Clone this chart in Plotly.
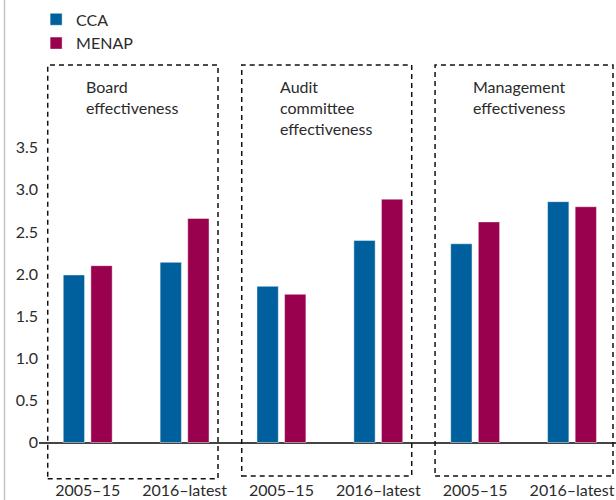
import plotly.graph_objects as go

# ---- data ----
panels = ["Board<br>effectiveness", "Audit<br>committee<br>effectiveness", "Management<br>effectiveness"]
periods = ["2005–15", "2016–latest"]
cca = [1.99, 2.14, 1.855, 2.40, 2.36, 2.86]
menap = [2.10, 2.66, 1.76, 2.89, 2.62, 2.80]
ytick_vals = [0, 0.5, 1.0, 1.5, 2.0, 2.5, 3.0, 3.5]
ytick_text = ["0", "0.5", "1.0", "1.5", "2.0", "2.5", "3.0", "3.5"]

# ---- build ----
xpos = list(range(len(cca)))
xlabels = [periods[i % 2] for i in xpos]

FONT = "Lato"
TXT = "#2b2b2b"
FS = 16

fig = go.Figure()
fig.add_trace(go.Bar(x=xpos, y=cca, name="CCA", marker=dict(color="#00609e",
                     line=dict(color="rgba(255,255,255,0.45)", width=1))))
fig.add_trace(go.Bar(x=xpos, y=menap, name="MENAP", marker=dict(color="#99004d",
                     line=dict(color="rgba(255,255,255,0.45)", width=1))))

shapes = []
box_ext = [(-0.413, 1.345, -0.43), (1.590, 3.345, -0.398), (3.586, 5.423, -0.398)]
for (x0, x1, yb) in box_ext:
    shapes.append(dict(type="rect", xref="x", yref="y", x0=x0, x1=x1, y0=yb, y1=4.483,
                       line=dict(color="#111", width=1.5, dash="5px,4px"), layer="above"))
# light frame line at left
shapes.append(dict(type="line", xref="paper", yref="paper", x0=-0.0598, x1=-0.0598,
                   y0=-0.04, y1=1.0, line=dict(color="#c4c4c4", width=1.5)))

annotations = []
for i, p in enumerate(panels):
    annotations.append(dict(x=2 * i - 0.04, y=4.36, xref="x", yref="y", text=p,
                            showarrow=False, xanchor="left", yanchor="top", align="left",
                            font=dict(family=FONT, size=FS, color=TXT)))

fig.update_layout(
    width=616, height=500,
    margin=dict(l=39, r=0, t=0, b=18, autoexpand=False),
    paper_bgcolor="white", plot_bgcolor="white",
    barmode="group", bargap=0.43, bargroupgap=0.228,
    font=dict(family=FONT, size=FS, color=TXT),
    showlegend=True,
    legend=dict(x=-0.005, y=0.995, xanchor="left", yanchor="top", bgcolor="rgba(0,0,0,0)",
                font=dict(family=FONT, size=FS, color=TXT), itemwidth=30,
                tracegroupgap=0),
    xaxis=dict(range=[-0.503, 5.454], tickvals=xpos, ticktext=xlabels, automargin=False,
               showgrid=False, zeroline=False, showline=False, ticks="",
               ticklabelstandoff=-3,
               tickfont=dict(family=FONT, size=FS, color=TXT)),
    yaxis=dict(range=[-0.469, 5.255], tickvals=ytick_vals, ticktext=ytick_text, automargin=False,
               showgrid=False, zeroline=True, zerolinecolor="#444", zerolinewidth=1.5,
               showline=False, ticks="", tickfont=dict(family=FONT, size=FS, color=TXT)),
    shapes=shapes, annotations=annotations,
)

fig.write_html("out.html", config={"displayModeBar": False},
               post_script="document.body.style.margin='0';document.body.style.padding='0';")
